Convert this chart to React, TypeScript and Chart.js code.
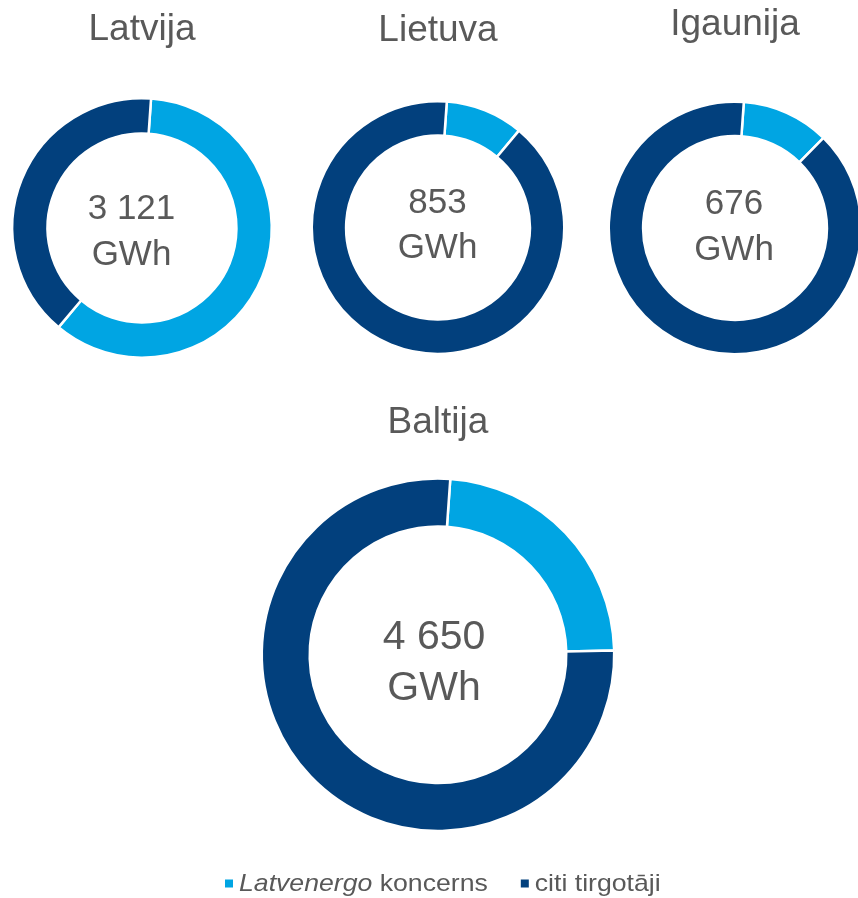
import React, { useEffect, useRef } from 'react';
import { Chart, registerables } from 'chart.js';

Chart.register(...registerables);

// ---- data ----
const regions = ['Latvija', 'Lietuva', 'Igaunija', 'Baltija'];
const totalLabels = ['3 121', '853', '676', '4 650'];
const unitLabel = 'GWh';
const seriesNames = ['Latvenergo koncerns', 'citi tirgotāji'];
const legendItalicParts = ['Latvenergo', ''];
const legendNormalParts = [' koncerns', 'citi tirgotāji'];
const latvenergoValues = [1873, 85, 76, 1093];
const othersValues = [1248, 768, 600, 3557];
const seriesColors = ['#00A5E3', '#02407D'];

// ---- layout / style ----
const FONT = '"Liberation Sans", Arial, Helvetica, sans-serif';
const TEXT_COLOR = '#595959';
const BW = 2.5;
const PAGE_W = 858;
const PAGE_H = 898;

type Layout = {
  cx: number; cy: number; r: number; width: number;
  titleBaseline: number; titleSize: number;
  centerSize: number; dx: number; dy1: number; dy2: number;
  legend?: boolean;
};

const layouts: Layout[] = [
  { cx: 141.5, cy: 228, r: 128.5, width: 290, titleBaseline: 42.7, titleSize: 37, centerSize: 35, dx: -10.5, dy1: -8.7, dy2: 37 },
  { cx: 438, cy: 227.5, r: 125, width: 290, titleBaseline: 44.3, titleSize: 37, centerSize: 35, dx: -0.5, dy1: -14.2, dy2: 30.8 },
  { cx: 735, cy: 228, r: 125, width: 290, titleBaseline: 38.3, titleSize: 37, centerSize: 35, dx: -1, dy1: -13.7, dy2: 32 },
  { cx: 437.7, cy: 654.7, r: 175, width: 700, titleBaseline: 435.7, titleSize: 37, centerSize: 41, dx: -4, dy1: -5.4, dy2: 45.3, legend: true },
];

const centerTextPlugin = {
  id: 'centerText',
  afterDatasetsDraw(chart: any, _args: any, opts: any) {
    const arc = chart.getDatasetMeta(0).data[0];
    if (!arc) return;
    const { x, y } = arc;
    const ctx = chart.ctx;
    ctx.save();
    ctx.fillStyle = TEXT_COLOR;
    ctx.font = `${opts.size}px ${FONT}`;
    ctx.textAlign = 'center';
    ctx.textBaseline = 'alphabetic';
    ctx.fillText(opts.line1, x + opts.dx, y + opts.dy1);
    ctx.fillText(opts.line2, x + opts.dx, y + opts.dy2);
    ctx.restore();
  },
};

const splitLegendPlugin = {
  id: 'splitLegend',
  afterDraw(chart: any, _args: any, opts: any) {
    if (!opts || !opts.display) return;
    const ctx = chart.ctx;
    ctx.save();
    const italicFont = `italic ${opts.size}px ${FONT}`;
    const normalFont = `${opts.size}px ${FONT}`;
    const sx = opts.stretch;
    const box = opts.box;
    const gap = opts.gap;
    const itemGap = opts.itemGap;
    let x = opts.startX;
    ctx.textBaseline = 'alphabetic';
    ctx.textAlign = 'left';
    seriesNames.forEach((_, k) => {
      ctx.font = italicFont;
      const wi = ctx.measureText(legendItalicParts[k]).width;
      ctx.font = normalFont;
      const wn = ctx.measureText(legendNormalParts[k]).width;
      ctx.fillStyle = seriesColors[k];
      ctx.fillRect(x, opts.boxY, box, box);
      x += box + gap;
      ctx.fillStyle = TEXT_COLOR;
      ctx.save();
      ctx.translate(x, opts.baseline);
      ctx.scale(sx, 1);
      if (legendItalicParts[k]) {
        ctx.font = italicFont;
        ctx.fillText(legendItalicParts[k], 0, 0);
      }
      ctx.font = normalFont;
      ctx.fillText(legendNormalParts[k], wi, 0);
      ctx.restore();
      x += (wi + wn) * sx + itemGap;
    });
    ctx.restore();
  },
};

function Donut({ i }: { i: number }) {
  const ref = useRef<HTMLCanvasElement>(null);
  const L = layouts[i];
  const S = 2 * L.r + 2 * BW;
  const lh = L.titleSize * 1.2;
  const canvasTop = Math.round(L.titleBaseline - 0.3465 * L.titleSize - lh / 2);
  const canvasLeft = Math.round(L.cx - L.width / 2);
  const areaTop = L.cy - S / 2;
  const titlePadBottom = areaTop - canvasTop - lh;
  const height = L.legend ? PAGE_H - canvasTop : Math.ceil(areaTop + S - canvasTop + 4);
  const bottomPad = height - (areaTop + S - canvasTop);

  useEffect(() => {
    if (!ref.current) return;
    const chart = new Chart(ref.current, {
      type: 'doughnut',
      data: {
        labels: seriesNames,
        datasets: [
          {
            data: [latvenergoValues[i], othersValues[i]],
            backgroundColor: seriesColors,
            borderColor: '#ffffff',
            borderWidth: BW,
            hoverOffset: 0,
            offset: 0,
          },
        ],
      },
      options: {
        responsive: false,
        maintainAspectRatio: false,
        animation: false,
        rotation: 4,
        cutout: '72.8%',
        events: [],
        layout: { padding: { top: 0, left: 0, right: 0, bottom: bottomPad } },
        plugins: {
          legend: { display: false },
          tooltip: { enabled: false },
          title: {
            display: true,
            text: regions[i],
            color: TEXT_COLOR,
            font: { family: FONT, size: L.titleSize, weight: 'normal', lineHeight: 1.2 },
            padding: { top: 0, bottom: titlePadBottom },
          },
          centerText: {
            line1: totalLabels[i],
            line2: unitLabel,
            size: L.centerSize,
            dx: L.dx,
            dy1: L.dy1,
            dy2: L.dy2,
          },
          splitLegend: {
            display: !!L.legend,
            size: 24,
            stretch: 1.11,
            box: 8,
            gap: 6,
            itemGap: 33,
            startX: 225 - canvasLeft,
            boxY: 879.5 - canvasTop,
            baseline: 891 - canvasTop,
          },
        } as any,
      },
      plugins: [centerTextPlugin, splitLegendPlugin],
    });
    return () => chart.destroy();
  }, []);

  return (
    <canvas
      ref={ref}
      width={L.width}
      height={height}
      style={{ position: 'absolute', left: canvasLeft, top: canvasTop, width: L.width, height }}
    />
  );
}

export default function App() {
  return (
    <div
      style={{
        position: 'absolute',
        left: 0,
        top: 0,
        width: PAGE_W,
        height: PAGE_H,
        overflow: 'hidden',
        background: '#ffffff',
      }}
    >
      {regions.map((_, i) => (
        <Donut key={i} i={i} />
      ))}
    </div>
  );
}
